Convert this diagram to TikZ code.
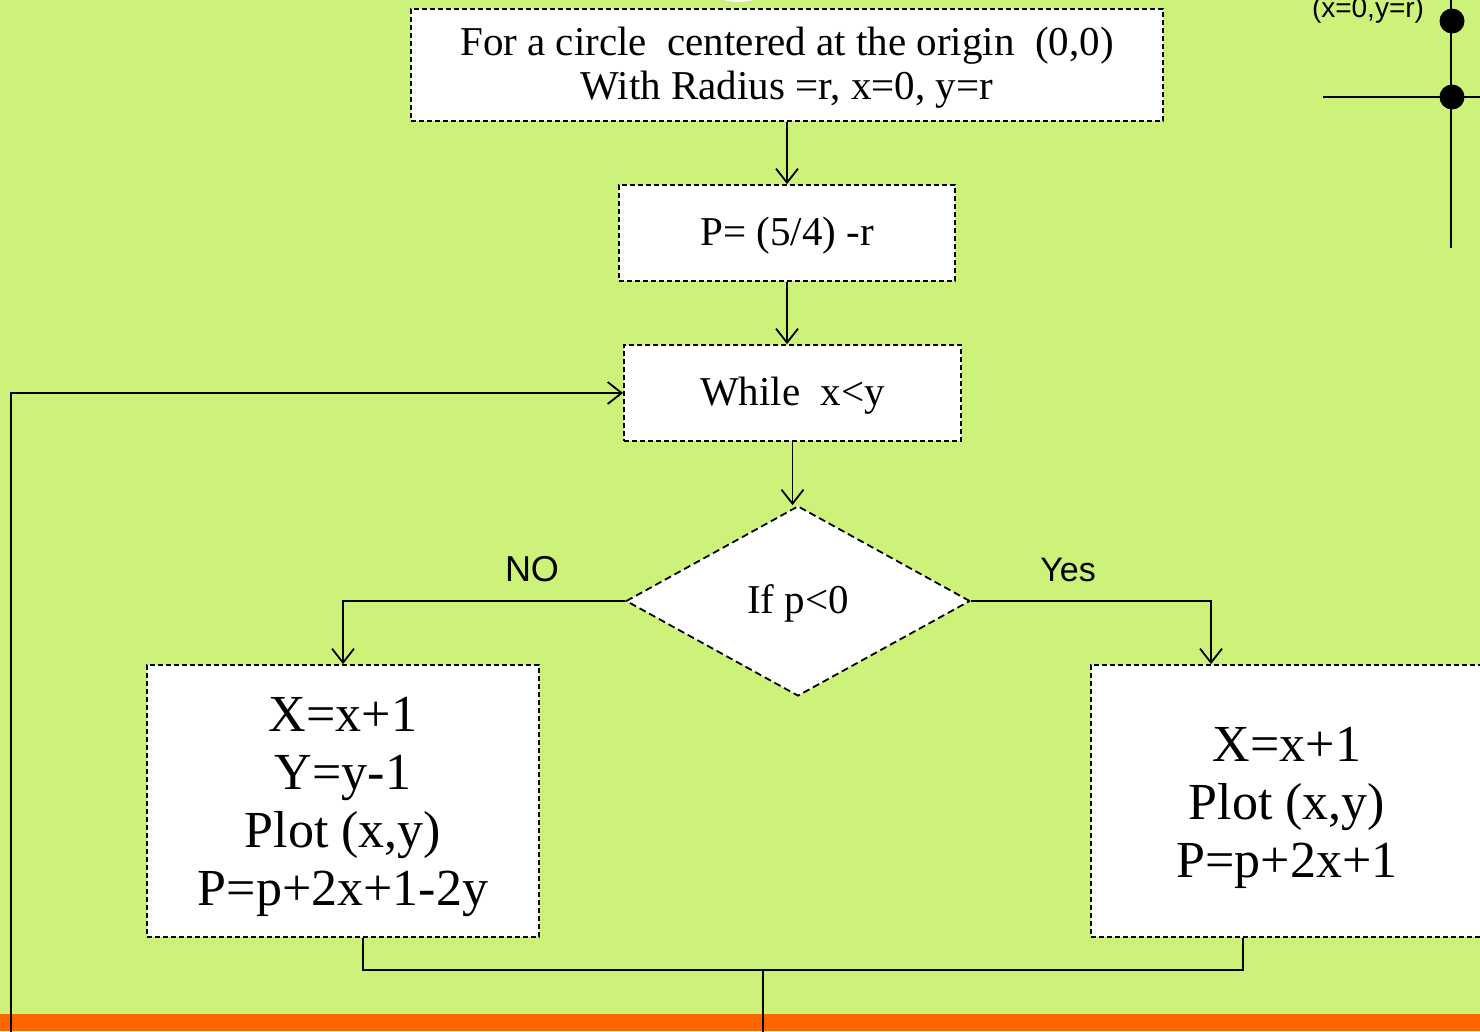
\documentclass[tikz,border=0pt]{standalone}
\usepackage{fontspec}
\setmainfont{Liberation Serif}
\newfontfamily\arialf{Liberation Sans}
\usetikzlibrary{arrows.meta,shapes.geometric}
\definecolor{bggreen}{RGB}{204,242,122}
\definecolor{barorange}{RGB}{255,102,0}
\newcommand\lifttext[1]{\rule{0pt}{\dimexpr\fontcharht\font`\(+#1\relax}}
\begin{document}
\begin{tikzpicture}[x=1pt,y=-1pt,
  box/.style={draw,fill=white,line width=1.8pt,dash pattern=on 5pt off 3pt,inner sep=0pt,align=center},
  midfont/.style={font=\fontsize{41}{44}\selectfont},
  bigfont/.style={font=\fontsize{52}{58}\selectfont},
  lbl/.style={font=\arialf\fontsize{36}{40}\selectfont},
  conn/.style={line width=1.8pt},
  arr/.style={conn,-{Straight Barb[length=14pt,width=22pt,line width=1.8pt]}}]
\useasboundingbox (0,0) rectangle (1480,1031);
\clip (0,0) rectangle (1480,1031);
\fill[bggreen] (0,0) rectangle (1480,1031);
\fill[white] (738,-8) ellipse (24pt and 10pt);
\fill[barorange] (0,1014) rectangle (1480,1031);

% nodes
\node[box,midfont,minimum width=752pt,minimum height=112pt] (init) at (787,65)
  {\lifttext{6pt}For a circle\ \ centered at the origin\ \ (0,0)\\With Radius =r, x=0, y=r};
\node[box,midfont,minimum width=336pt,minimum height=96pt] (p0) at (787,233) {\lifttext{6pt}P= (5/4) -r};
\node[box,midfont,minimum width=337pt,minimum height=96pt] (loop) at (792.5,393) {\lifttext{6pt}While\ \ x<y};
\node[box,midfont,shape=diamond,dash pattern=on 7pt off 4pt,minimum width=344pt,minimum height=190pt] (dec) at (798,601) {\lifttext{6pt}If p<0};
\node[box,bigfont,minimum width=392pt,minimum height=272pt] (nob) at (343,801)
  {\lifttext{12pt}X=x+1\\Y=y-1\\Plot (x,y)\\P=p+2x+1-2y};
\node[box,bigfont,minimum width=392pt,minimum height=272pt] (yesb) at (1287,801)
  {\lifttext{14pt}X=x+1\\Plot (x,y)\\P=p+2x+1};

\node[lbl] (nolbl) at (532,569) {NO};
\node[lbl,font=\arialf\fontsize{34}{40}\selectfont] (yeslbl) at (1068,570) {Yes};

% connectors
\draw[arr] (init.south) -- (p0.north);
\draw[arr] (p0.south) -- (p0.south |- loop.north);
\draw[arr] (loop.south) -- (loop.south |- dec.north);
\draw[arr] (dec.west) -| (nob.north);
\draw[arr] (dec.east) -| ([xshift=-76pt]yesb.north);
\coordinate (j) at (763,970);
\coordinate (jbot) at (763,1040);
\draw[conn] ([xshift=20pt]nob.south) |- (j) -| ([xshift=-44pt]yesb.south);
\draw[conn] (j) -- (jbot);
\coordinate (lb) at (11,1040);
\draw[arr] (lb) |- (loop.west);

% top-right axes
\coordinate (vtop) at (1451,-5);
\coordinate (vbot) at (1451,248);
\coordinate (hl) at (1323,97);
\coordinate (hr) at (1490,97);
\draw[conn] (vtop) -- (vbot);
\draw[conn] (hl) -- (hr);
\fill (1452,21) circle (12.5pt);
\fill (1452,97) circle (12.5pt);
\node[font=\arialf\fontsize{28}{30}\selectfont,anchor=base] (lab) at (1368,17) {(x=0,y=r)};
\end{tikzpicture}
\end{document}
